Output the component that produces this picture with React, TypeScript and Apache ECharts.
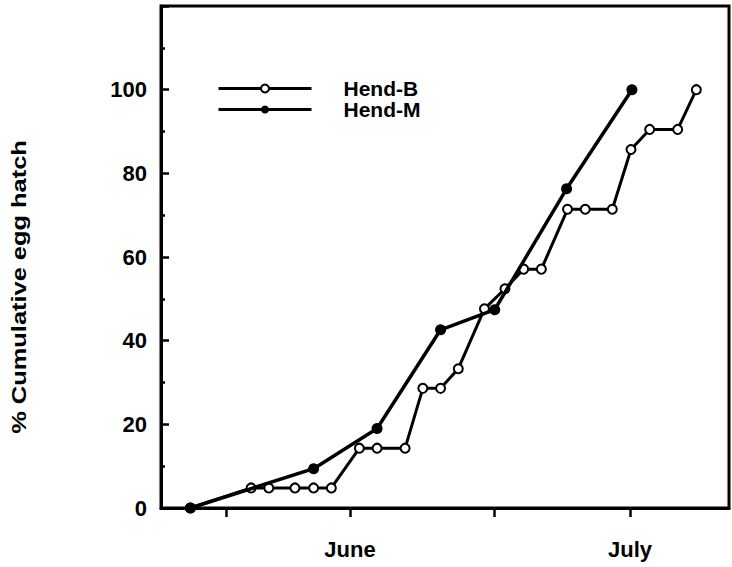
import React, { useEffect, useRef } from "react";
import * as echarts from "echarts";

// Days counted from 1 May; 1 June = 31, 1 July = 61
const hendBDays = [13.9, 20.4, 22.3, 25.1, 27.1, 29.0, 32.0, 33.9, 36.9, 38.8, 40.7, 42.6, 45.4, 47.6, 49.6, 51.5, 54.3, 56.2, 59.1, 61.1, 63.1, 66.1, 68.1];
const hendBPct = [0, 4.8, 4.8, 4.8, 4.8, 4.8, 14.3, 14.3, 14.3, 28.6, 28.6, 33.3, 47.6, 52.4, 57.1, 57.1, 71.4, 71.4, 71.4, 85.7, 90.5, 90.5, 100];

const hendMDays = [13.9, 27.1, 33.9, 40.7, 46.5, 54.2, 61.2];
const hendMPct = [0, 9.4, 19.0, 42.6, 47.4, 76.3, 100];

const xTickDays = [17.7, 31, 46.4, 61];
const monthDays = [31, 61];
const monthNames = ["June", "July"];

const seriesNames = ["Hend-B", "Hend-M"];
const yTitle = "% Cumulative egg hatch";

const FONT = '"Liberation Sans", Arial, Helvetica, sans-serif';

export default function App() {
  const ref = useRef<HTMLDivElement>(null);

  useEffect(() => {
    if (!ref.current) return;
    const chart = echarts.init(ref.current, null, { renderer: "svg" });

    const pairs = (xs: number[], ys: number[]) => xs.map((x, i) => [x, ys[i]]);

    chart.setOption({
      animation: false,
      backgroundColor: "#fff",
      grid: {
        left: 161,
        right: 3,
        top: 6,
        bottom: 59,
        show: true,
        borderColor: "#000",
        borderWidth: 3,
        backgroundColor: "transparent",
      },
      legend: {
        data: seriesNames,
        orient: "vertical",
        left: 212,
        top: 73,
        itemWidth: 93,
        itemHeight: 10,
        itemGap: 0,
        lineStyle: { width: 3, color: "#000" },
        textStyle: {
          fontFamily: FONT,
          fontSize: 21,
          fontWeight: "bold",
          color: "#000",
          lineHeight: 20,
          padding: [0, 0, 0, 27],
        },
      },
      xAxis: {
        type: "value",
        min: 10.75,
        max: 71.6,
        splitLine: { show: false },
        axisLine: { show: true, onZero: false, lineStyle: { color: "#000", width: 3 } },
        axisTick: {
          show: true,
          inside: false,
          length: 9,
          customValues: xTickDays,
          lineStyle: { color: "#000", width: 2.5 },
        },
        axisLabel: {
          customValues: monthDays,
          margin: 30,
          color: "#000",
          fontFamily: FONT,
          fontSize: 22,
          fontWeight: "bold",
          formatter: (v: number) => {
            const i = monthDays.indexOf(v);
            return i >= 0 ? monthNames[i] : "";
          },
        },
      },
      yAxis: {
        type: "value",
        min: 0,
        max: 120,
        interval: 20,
        splitLine: { show: false },
        axisLine: { show: true, lineStyle: { color: "#000", width: 3 } },
        axisTick: { show: true, inside: true, length: 8, lineStyle: { color: "#000", width: 2.5 } },
        minorTick: { show: true, splitNumber: 2, length: 4, lineStyle: { color: "#000", width: 2.5 } },
        axisLabel: {
          margin: 14,
          color: "#000",
          fontFamily: FONT,
          fontSize: 22,
          fontWeight: "bold",
          formatter: (v: number) => (v > 100 ? "" : String(v)),
        },
      },
      graphic: [
        {
          type: "text",
          x: 19,
          y: 287,
          rotation: Math.PI / 2,
          scaleX: 1.27,
          style: {
            text: yTitle,
            fontFamily: FONT,
            fontSize: 20,
            fontWeight: "bold",
            fill: "#000",
            align: "center",
            verticalAlign: "middle",
          },
        },
      ],
      series: [
        {
          name: seriesNames[0],
          type: "line",
          data: pairs(hendBDays, hendBPct),
          symbol: "emptyCircle",
          symbolSize: 9,
          z: 2,
          lineStyle: { color: "#000", width: 3 },
          itemStyle: { color: "#000", borderColor: "#000", borderWidth: 2.5 },
        },
        {
          name: seriesNames[1],
          type: "line",
          data: pairs(hendMDays, hendMPct),
          symbol: "circle",
          symbolSize: 11,
          z: 3,
          lineStyle: { color: "#000", width: 3.5 },
          itemStyle: { color: "#000" },
        },
      ],
    });

    return () => chart.dispose();
  }, []);

  return (
    <div
      ref={ref}
      style={{ position: "fixed", left: 0, top: 0, width: 732, height: 567, background: "#fff" }}
    />
  );
}
